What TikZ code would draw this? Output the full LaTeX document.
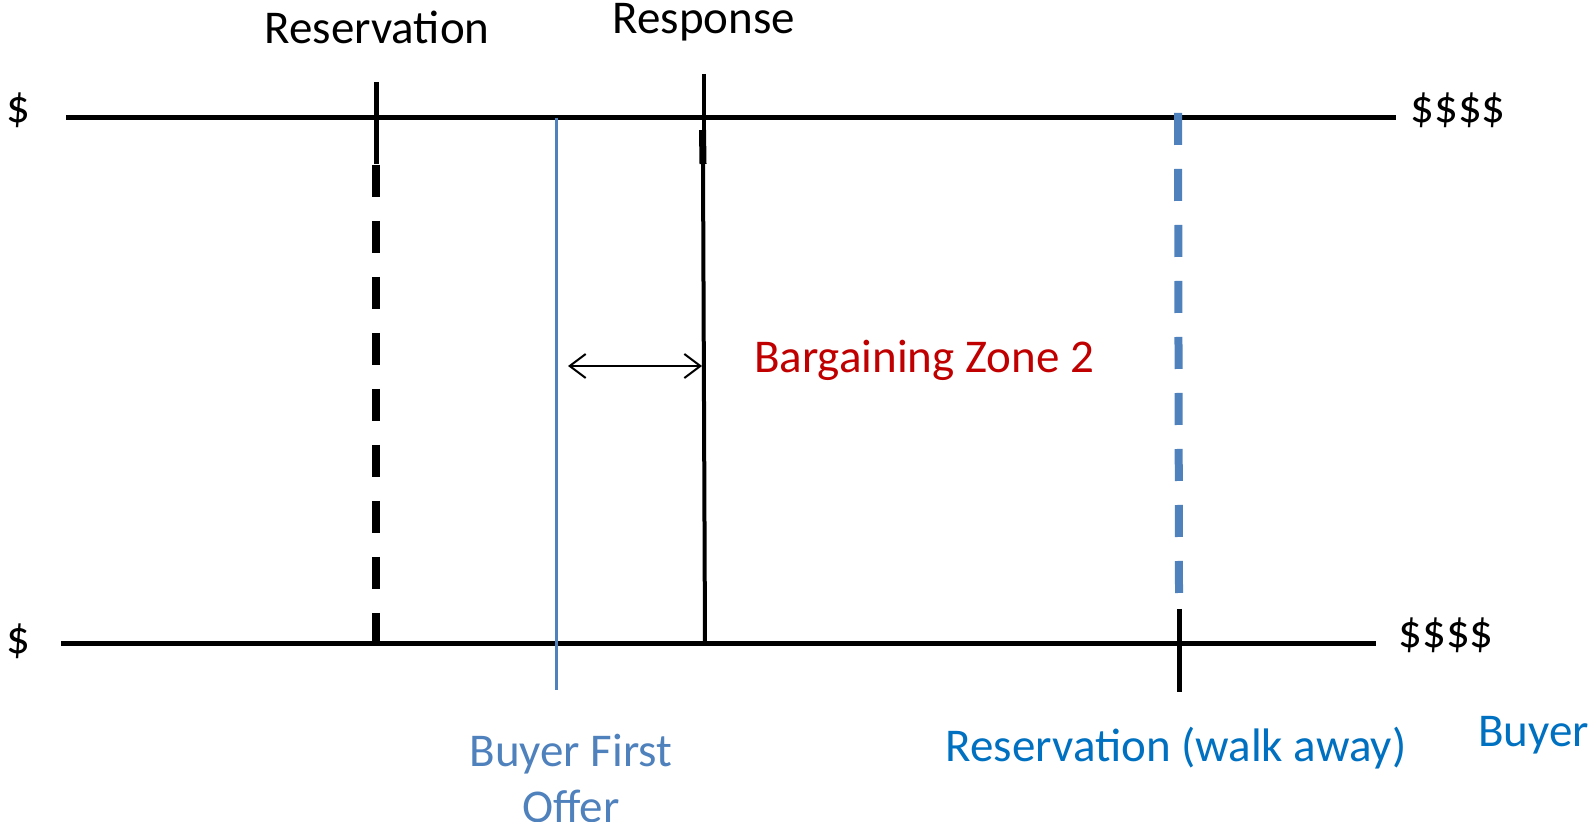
\documentclass[tikz,border=0pt]{standalone}
\usepackage{fontspec}
\setmainfont{Carlito}
\usetikzlibrary{arrows.meta, positioning}

\definecolor{offerblue}{HTML}{4F81BD}
\definecolor{walkblue}{HTML}{0070C0}
\definecolor{zonered}{HTML}{C00000}

\begin{document}
\begin{tikzpicture}[
  x=0.5pt, y=-0.5pt,
  lbl/.style = {
    font=\fontsize{23.5}{28}\selectfont,
    inner sep=0pt,
    align=center
  },
  scaleline/.style = {line width=2.5pt},
  thinmark/.style = {line width=2pt},
  walkaway/.style = {line width=4pt, dash pattern=on 16pt off 12pt},
  arrow/.style = {line width=1pt, {Straight Barb[length=8pt,width=12pt]}-{Straight Barb[length=8pt,width=12pt]}}
]
\useasboundingbox (0,0) rectangle (1589,822);

% ======================================================
% SCALES
% ======================================================

\coordinate (sellerL) at (66,118);
\coordinate (sellerR) at (1396,118);
\coordinate (buyerL) at (61,644);
\coordinate (buyerR) at (1376,644);

\draw[scaleline] (sellerL) -- (sellerR);
\draw[scaleline] (buyerL) -- (buyerR);

\node[lbl] (sellerLow) at (18,110) {\$};
\node[lbl, anchor=west, right=7pt of sellerR, yshift=4pt] (sellerHigh) {\$\$\$\$};
\node[lbl] (buyerLow) at (18,641) {\$};
\node[lbl, anchor=west, right=11pt of buyerR, yshift=4.5pt] (buyerHigh) {\$\$\$\$};

% ======================================================
% SELLER MARKS
% ======================================================

\coordinate (resTop) at (376,82);
\coordinate (resMid) at (376,164);
\coordinate (resDash) at (376,165);
\coordinate (resBot) at (376,644);

\draw[scaleline] (resTop) -- (resMid);
\draw[walkaway] (resDash) -- (resBot);
\node[lbl] (reservation) at (377,27) {Reservation};

\coordinate (respTop) at (704,74);
\coordinate (respMid) at (703,164);
\coordinate (respBot) at (705,644);

\draw[thinmark] (respTop) -- (704,130);
\draw[line width=3.5pt] (702.5,130) -- (respMid);
\draw[thinmark] (respMid) -- (respBot);
\node[lbl] (response) at (704,22) {Response};

% ======================================================
% BUYER MARKS
% ======================================================

\coordinate (offerTop) at (556,118);
\coordinate (offerBot) at (556,690);
\draw[offerblue, line width=1.5pt] (offerTop) -- (offerBot);
\node[lbl, text=offerblue] (offer) at (571,778) {Buyer First\\Offer};

\coordinate (walkTop) at (1178,113);
\coordinate (walkBot) at (1179,593);
\draw[walkaway, offerblue] (walkTop) -- (walkBot);

\coordinate (tickTop) at (1179,609);
\coordinate (tickBot) at (1179,692);
\draw[scaleline] (tickTop) -- (tickBot);
\node[lbl, text=walkblue] (walkaway) at (1176,748) {Reservation (walk away)};
\node[lbl, text=walkblue, anchor=west] (buyer) at (1478,735) {Buyer};

% ---- Zone ----
\coordinate (zoneL) at (568,366);
\coordinate (zoneR) at (702,366);
\draw[arrow] (zoneL) -- (zoneR);
\node[lbl, text=zonered] (zone) at (924,360) {Bargaining Zone 2};

\end{tikzpicture}
\end{document}
